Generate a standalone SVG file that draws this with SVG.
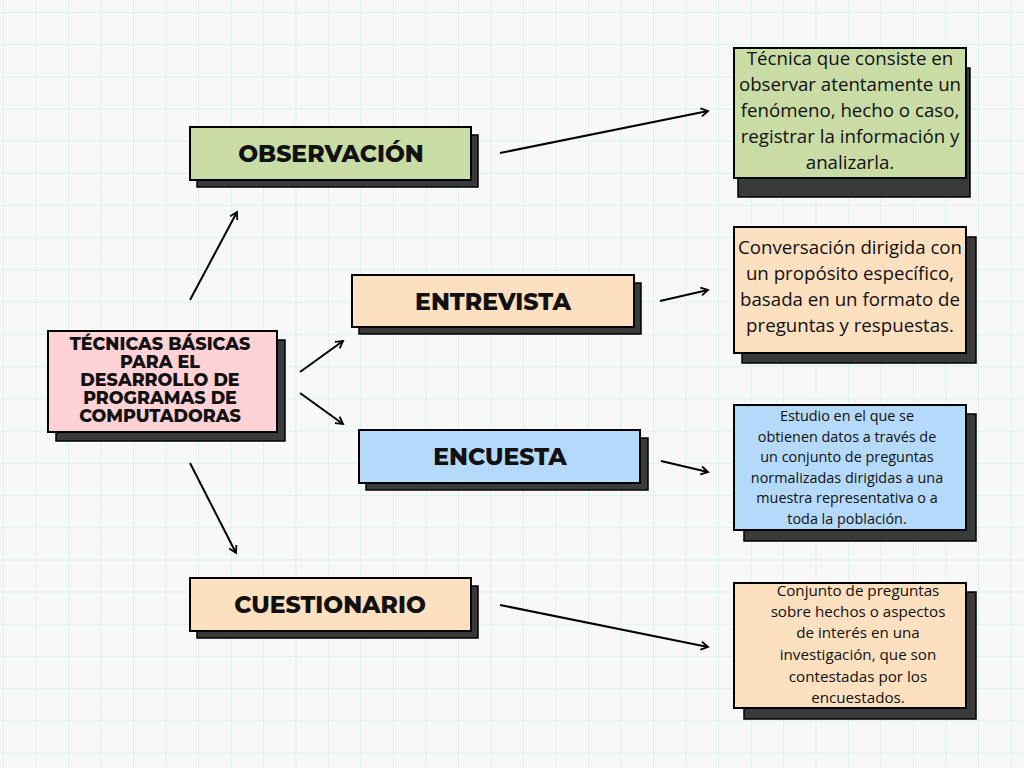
<svg xmlns="http://www.w3.org/2000/svg" width="1024" height="768" viewBox="0 0 1024 768">
<defs>
<pattern id="grid" x="3" y="12" width="32.5" height="32.2" patternUnits="userSpaceOnUse">
<path d="M0 0H32.5M0 0V32.2" fill="none" stroke="#dcf3ef" stroke-width="2"/>
</pattern>
<marker id="arr" viewBox="0 0 12 12" refX="10" refY="6" markerWidth="12" markerHeight="12" markerUnits="userSpaceOnUse" orient="auto">
<path d="M3 2L10 6L3 10" fill="none" stroke="#000" stroke-width="1.8"/>
</marker>
<style>
.sh{fill:#3a3a3a;stroke:#000;stroke-width:1.5}
.bx{stroke:#000;stroke-width:2}
.g{fill:#c9dca6}.p{fill:#fde0c0}.b{fill:#b5daf9}.k{fill:#ffd2d6}
.t{font-family:"Montserrat","Liberation Sans",Arial,sans-serif;font-weight:800;fill:#111;text-anchor:middle}
.h{font-size:23.5px}
.c{font-size:17.5px}
.d{font-family:"Open Sans","Noto Sans",sans-serif;fill:#111;text-anchor:middle}
.d1{font-size:18.7px}
.d2{font-size:14.4px}
.d3{font-size:15.2px}
.cn line{stroke:#000;stroke-width:2;marker-end:url(#arr)}
</style>
</defs>
<rect width="1024" height="768" fill="#f8f8f8"/>
<rect width="1024" height="768" fill="url(#grid)"/>

<g id="central">
<rect class="sh" x="56" y="340" width="229" height="101"/>
<rect class="bx k" x="48" y="331" width="229" height="101"/>
<text class="t c" x="160"><tspan x="160" y="350">TÉCNICAS BÁSICAS</tspan><tspan x="160" y="368">PARA EL</tspan><tspan x="160" y="386">DESARROLLO DE</tspan><tspan x="160" y="404">PROGRAMAS DE</tspan><tspan x="160" y="422">COMPUTADORAS</tspan></text>
</g>

<g id="observacion">
<rect class="sh" x="197" y="135" width="281" height="52"/>
<rect class="bx g" x="190" y="127" width="281" height="53"/>
<text class="t h" x="331" y="162">OBSERVACIÓN</text>
</g>

<g id="entrevista">
<rect class="sh" x="359" y="283" width="282" height="51"/>
<rect class="bx p" x="352" y="275" width="282" height="52"/>
<text class="t h" x="493" y="310">ENTREVISTA</text>
</g>

<g id="encuesta">
<rect class="sh" x="366" y="438" width="282" height="52"/>
<rect class="bx b" x="359" y="430" width="281" height="53"/>
<text class="t h" x="500" y="465">ENCUESTA</text>
</g>

<g id="cuestionario">
<rect class="sh" x="197" y="586" width="281" height="52"/>
<rect class="bx p" x="190" y="578" width="281" height="53"/>
<text class="t h" x="330" y="613">CUESTIONARIO</text>
</g>

<g id="def-observacion">
<rect class="sh" x="738" y="68" width="232" height="129"/>
<rect class="bx g" x="734" y="48" width="232" height="130"/>
<text class="d d1"><tspan x="850" y="65">Técnica que consiste en</tspan><tspan x="850" y="91">observar atentamente un</tspan><tspan x="850" y="117">fenómeno, hecho o caso,</tspan><tspan x="850" y="143">registrar la información y</tspan><tspan x="850" y="169">analizarla.</tspan></text>
</g>

<g id="def-entrevista">
<rect class="sh" x="742" y="237" width="234" height="126"/>
<rect class="bx p" x="734" y="227" width="232" height="126"/>
<text class="d d1"><tspan x="850" y="254">Conversación dirigida con</tspan><tspan x="850" y="280">un propósito específico,</tspan><tspan x="850" y="306">basada en un formato de</tspan><tspan x="850" y="332">preguntas y respuestas.</tspan></text>
</g>

<g id="def-encuesta">
<rect class="sh" x="744" y="414" width="232" height="127"/>
<rect class="bx b" x="734" y="405" width="232" height="125"/>
<text class="d d2"><tspan x="847" y="421">Estudio en el que se</tspan><tspan x="847" y="442">obtienen datos a través de</tspan><tspan x="847" y="462">un conjunto de preguntas</tspan><tspan x="847" y="483">normalizadas dirigidas a una</tspan><tspan x="847" y="503">muestra representativa o a</tspan><tspan x="847" y="524">toda la población.</tspan></text>
</g>

<g id="def-cuestionario">
<rect class="sh" x="744" y="592" width="232" height="127"/>
<rect class="bx p" x="734" y="583" width="232" height="125"/>
<text class="d d3"><tspan x="858" y="596">Conjunto de preguntas</tspan><tspan x="858" y="617">sobre hechos o aspectos</tspan><tspan x="858" y="638">de interés en una</tspan><tspan x="858" y="660">investigación, que son</tspan><tspan x="858" y="682">contestadas por los</tspan><tspan x="858" y="703">encuestados.</tspan></text>
</g>

<g id="connectors" class="cn">
<line x1="500" y1="153" x2="708" y2="111"/>
<line x1="660" y1="301" x2="708" y2="290"/>
<line x1="661" y1="461" x2="708" y2="472"/>
<line x1="500" y1="605" x2="708" y2="647"/>
<line x1="190" y1="300" x2="237" y2="212"/>
<line x1="300" y1="372" x2="343" y2="341"/>
<line x1="300" y1="393" x2="343" y2="424"/>
<line x1="190" y1="463" x2="236" y2="553"/>
</g>
</svg>
